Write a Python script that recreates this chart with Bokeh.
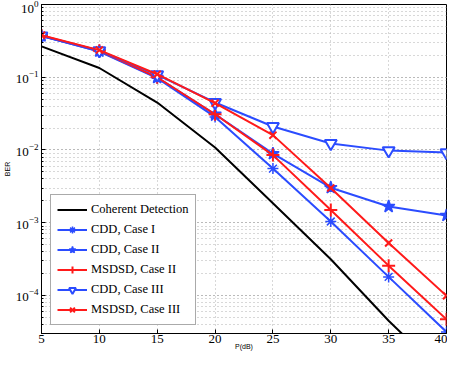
from bokeh.plotting import figure
from bokeh.embed import file_html
from bokeh.resources import INLINE
from bokeh.models import Legend, LegendItem, FixedTicker, LogTicker, Range1d
from bokeh.core.properties import value

snr = [5, 10, 15, 20, 25, 30, 35, 40]
coherent = [0.266, 0.134, 0.0449, 0.0108, 1.85e-3, 3.15e-4, 4.5e-5, 7.6e-6]
cdd_case1 = [0.37, 0.225, 0.097, 0.0285, 5.55e-3, 1.04e-3, 1.8e-4, 3.15e-5]
cdd_case2 = [0.37, 0.228, 0.099, 0.031, 8.9e-3, 3.03e-3, 1.67e-3, 1.26e-3]
msdsd_case2 = [0.375, 0.232, 0.1, 0.031, 8.5e-3, 1.5e-3, 2.57e-4, 4.7e-5]
cdd_case3 = [0.37, 0.232, 0.108, 0.045, 0.021, 0.0123, 0.0098, 0.0092]
msdsd_case3 = [0.378, 0.236, 0.11, 0.044, 0.016, 3.0e-3, 5.27e-4, 9.9e-5]

legend_labels = ["Coherent Detection", "CDD, Case I", "CDD, Case II",
                 "MSDSD, Case II", "CDD, Case III", "MSDSD, Case III"]
x_ticks = [5, 10, 15, 20, 25, 30, 35, 40]

BLUE = "#2b4cff"
RED = "#ff1a1a"
SERIF = "Liberation Serif"

p = figure(width=447, height=352, y_axis_type="log",
           x_range=Range1d(5, 40), y_range=Range1d(3e-5, 1),
           output_backend="svg", toolbar_location=None,
           min_border_left=32, min_border_right=1, min_border_top=4, min_border_bottom=10)

p.outline_line_color = "black"
p.outline_line_width = 1
p.background_fill_color = "white"

p.xaxis.ticker = FixedTicker(ticks=x_ticks)
p.yaxis.ticker = LogTicker(num_minor_ticks=10)
for ax in (p.xaxis[0], p.yaxis[0]):
    ax.major_tick_in = 4
    ax.major_tick_out = 0
    ax.minor_tick_in = 2
    ax.minor_tick_out = 0
    ax.axis_line_color = "black"
    ax.major_label_text_font = SERIF
    ax.major_label_text_font_size = "13px"
    ax.major_label_text_color = "black"
    ax.axis_label_text_font = "Liberation Sans"
    ax.axis_label_text_font_size = "7px"
    ax.axis_label_text_font_style = "normal"
    ax.axis_label_text_color = "black"
p.xaxis.major_label_standoff = 1
p.yaxis.major_label_standoff = 3
p.xaxis.axis_label = "P(dB)"
p.yaxis.axis_label = "BER"
p.xaxis.axis_label_standoff = -3
p.yaxis.axis_label_standoff = 2

p.xgrid.grid_line_color = "#b0b0b0"
p.xgrid.grid_line_dash = "1 3"
p.ygrid.grid_line_color = "#b0b0b0"
p.ygrid.grid_line_dash = "1 3"
p.ygrid.minor_grid_line_color = "#b0b0b0"
p.ygrid.minor_grid_line_dash = "1 3"

lw = 2
items = []

r0 = p.line(snr, coherent, line_color="black", line_width=lw)
items.append(LegendItem(label=legend_labels[0], renderers=[r0]))

r1 = p.line(snr, cdd_case1, line_color=BLUE, line_width=lw)
m1 = p.scatter(snr, cdd_case1, marker="asterisk", size=11, line_color=BLUE, line_width=1.5, fill_color=None)
items.append(LegendItem(label=legend_labels[1], renderers=[r1, m1]))

r2 = p.line(snr, cdd_case2, line_color=BLUE, line_width=lw)
m2 = p.scatter(snr, cdd_case2, marker="star", size=13, line_color=BLUE, line_width=1.5, fill_color=BLUE)
items.append(LegendItem(label=legend_labels[2], renderers=[r2, m2]))

r3 = p.line(snr, msdsd_case2, line_color=RED, line_width=lw)
m3 = p.scatter(snr, msdsd_case2, marker="cross", size=13, line_color=RED, line_width=2)
items.append(LegendItem(label=legend_labels[3], renderers=[r3, m3]))

r4 = p.line(snr, cdd_case3, line_color=BLUE, line_width=lw)
m4 = p.scatter(snr, cdd_case3, marker="inverted_triangle", size=12, line_color=BLUE, line_width=2, fill_color="white")
items.append(LegendItem(label=legend_labels[4], renderers=[r4, m4]))

r5 = p.line(snr, msdsd_case3, line_color=RED, line_width=lw)
m5 = p.scatter(snr, msdsd_case3, marker="x", size=10, line_color=RED, line_width=2)
items.append(LegendItem(label=legend_labels[5], renderers=[r5, m5]))

legend = Legend(items=items, location=(9, 8))
legend.label_text_font = SERIF
legend.label_text_font_size = "12.5px"
legend.label_text_color = "black"
legend.glyph_width = 30
legend.glyph_height = 17
legend.label_height = 17
legend.spacing = 3
legend.padding = 6
legend.margin = 0
legend.label_standoff = 4
legend.border_line_color = "#555555"
legend.border_line_width = 1
legend.background_fill_alpha = 1
p.add_layout(legend, "center")

open("out.html", "w").write(file_html(p, INLINE))
